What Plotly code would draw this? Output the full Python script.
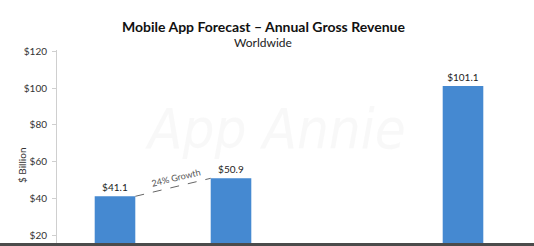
import math
import plotly.graph_objects as go

categories = ["2015", "2016", " ", "2020"]
bar_years = ["2015", "2016", "2020"]
revenue = [41.1, 50.9, 101.1]
tick_values = [20, 40, 60, 80, 100, 120]
tick_labels = ["$20", "$40", "$60", "$80", "$100", "$120"]
growth_label = "24% Growth"

BAR_W = 0.35
W, H = 534, 246
ML, MR, MT, MB = 57, 13, 50, 3
YR = [15.7, 120.7]

fig = go.Figure()
fig.add_trace(go.Bar(
    x=bar_years, y=revenue, width=BAR_W,
    marker=dict(color="#4589D1", line=dict(width=0)),
    texttemplate="$%{y:.1f}", textposition="outside",
    textfont=dict(family="Lato", size=10, color="#222"),
    cliponaxis=False, showlegend=False,
))

# dashed growth connector between first two bars
i0 = categories.index(bar_years[0])
i1 = categories.index(bar_years[1])
fig.add_shape(type="line", xref="x", yref="y",
              x0=i0 + BAR_W / 2, y0=revenue[0], x1=i1 - BAR_W / 2, y1=revenue[1],
              line=dict(color="#666", width=1, dash="dash"))

plot_w = W - ML - MR
plot_h = H - MT - MB
px_x = plot_w / len(categories)
px_y = plot_h / (YR[1] - YR[0])
dx = (i1 - i0 - BAR_W) * px_x
dy = (revenue[1] - revenue[0]) * px_y
ang = -math.degrees(math.atan2(dy, dx))
fig.add_annotation(x=(i0 + i1) / 2, y=(revenue[0] + revenue[1]) / 2, xref="x", yref="y",
                   text=growth_label, showarrow=False, textangle=ang,
                   yshift=10, xshift=3,
                   font=dict(family="Lato", size=9, color="#555"))

# watermark
fig.add_annotation(x=(275 - ML) / plot_w, y=1 - (128 - MT) / plot_h, xref="paper", yref="paper",
                   text="<i>App Annie</i>", showarrow=False,
                   font=dict(family="DejaVu Sans Condensed", size=56, color="rgba(243,243,243,0.6)"))

# title / subtitle
fig.add_annotation(x=(263 - ML) / plot_w, y=1 + (MT - 16) / plot_h, xref="paper", yref="paper",
                   text="<b>Mobile App Forecast – Annual Gross Revenue</b>", showarrow=False,
                   font=dict(family="Lato", size=14, color="#111"))
fig.add_annotation(x=(263 - ML) / plot_w, y=1 + (MT - 33) / plot_h, xref="paper", yref="paper",
                   text="Worldwide", showarrow=False,
                   font=dict(family="Lato", size=12, color="#222"))

# y-axis title
fig.add_annotation(x=(14 - ML) / plot_w, y=1 - (165 - MT) / plot_h, xref="paper", yref="paper",
                   text="$ Billion", showarrow=False, textangle=-90,
                   font=dict(family="Lato", size=10, color="#333"))

# dark strip at the bottom edge
fig.add_shape(type="rect", xref="paper", yref="paper", layer="above",
              x0=-ML / plot_w, x1=(W - ML) / plot_w, y0=-(MB + 2) / plot_h, y1=0,
              fillcolor="rgba(60,60,60,0.92)", line=dict(width=0))

fig.update_layout(
    width=W, height=H,
    margin=dict(l=ML, r=MR, t=MT, b=MB),
    paper_bgcolor="white", plot_bgcolor="white",
    bargap=0.65,
    font=dict(family="Lato", color="#333"),
    xaxis=dict(type="category", categoryorder="array", categoryarray=categories,
               range=[-0.5, len(categories) - 0.5],
               showticklabels=False, showline=False, ticks="", showgrid=False, zeroline=False),
    yaxis=dict(range=YR, tickmode="array", tickvals=tick_values, ticktext=tick_labels,
               showgrid=False, zeroline=False,
               showline=True, linecolor="#cfcfcf", linewidth=1,
               ticks="outside", ticklen=4, tickcolor="#cfcfcf",
               ticklabelstandoff=3,
               tickfont=dict(family="Lato", size=10, color="#333")),
)

fig.write_html("out.html")
